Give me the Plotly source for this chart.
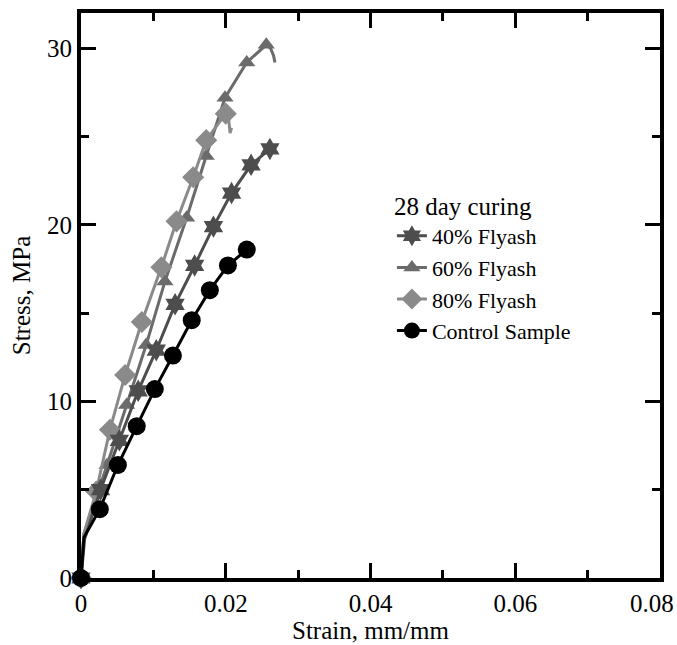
import plotly.graph_objects as go

# ---------------- data ----------------
series_names = ["40% Flyash", "60% Flyash", "80% Flyash", "Control Sample"]

# marker points
fa40_x = [0, 0.0027, 0.0053, 0.0079, 0.0104, 0.0130, 0.0157, 0.0183, 0.0208, 0.0235, 0.0261]
fa40_y = [0, 5.0, 7.8, 10.6, 12.9, 15.5, 17.7, 19.9, 21.8, 23.4, 24.3]
fa60_x = [0, 0.0036, 0.0063, 0.0090, 0.0116, 0.0146, 0.0173, 0.0199, 0.0229, 0.0256]
fa60_y = [0, 6.4, 9.8, 13.2, 16.8, 20.4, 23.9, 27.2, 29.2, 30.2]
fa80_x = [0, 0.0021, 0.0040, 0.0061, 0.0084, 0.0111, 0.0132, 0.0155, 0.0173, 0.0200]
fa80_y = [0, 4.9, 8.4, 11.5, 14.5, 17.6, 20.2, 22.7, 24.8, 26.3]
ctrl_x = [0, 0.0026, 0.0051, 0.0077, 0.0102, 0.0127, 0.0153, 0.0178, 0.0203, 0.0229]
ctrl_y = [0, 3.9, 6.4, 8.6, 10.7, 12.6, 14.6, 16.3, 17.7, 18.6]

# raw curve vertices (lines)
fa40_line_x = [0, 0.0005, 0.0027, 0.0053, 0.0079, 0.0104, 0.0130, 0.0157, 0.0183, 0.0208, 0.0235, 0.0261, 0.0264]
fa40_line_y = [0, 2.2, 5.0, 7.8, 10.6, 12.9, 15.5, 17.7, 19.9, 21.8, 23.4, 24.3, 24.5]
fa60_line_x = [0, 0.0004, 0.0036, 0.0063, 0.0090, 0.0116, 0.0146, 0.0173, 0.0199, 0.0229, 0.0256, 0.0262, 0.0266, 0.0268]
fa60_line_y = [0, 2.5, 6.4, 9.8, 13.2, 16.8, 20.4, 23.9, 27.2, 29.2, 30.2, 30.0, 29.6, 29.2]
fa80_line_x = [0, 0.0004, 0.0021, 0.0040, 0.0061, 0.0084, 0.0111, 0.0132, 0.0155, 0.0173, 0.0200, 0.0204, 0.0206, 0.0208]
fa80_line_y = [0, 2.5, 4.9, 8.4, 11.5, 14.5, 17.6, 20.2, 22.7, 24.8, 26.3, 26.0, 25.2, 25.5]
ctrl_line_x = [0, 0.0004, 0.0026, 0.0051, 0.0077, 0.0102, 0.0127, 0.0153, 0.0178, 0.0203, 0.0229]
ctrl_line_y = [0, 2.3, 3.9, 6.4, 8.6, 10.7, 12.6, 14.6, 16.3, 17.7, 18.6]

x_tickvals = [0, 0.02, 0.04, 0.06, 0.08]
x_ticktext = ["0", "0.02", "0.04", "0.06", "0.08"]
y_tickvals = [0, 10, 20, 30]
y_ticktext = ["0", "10", "20", "30"]

# ---------------- styling ----------------
colors = {"40% Flyash": "#4d4d4d", "60% Flyash": "#6b6b6b",
          "80% Flyash": "#8a8a8a", "Control Sample": "#000000"}
symbols = {"40% Flyash": "hexagram", "60% Flyash": "triangle-up",
           "80% Flyash": "diamond", "Control Sample": "circle"}
sizes = {"40% Flyash": 17, "60% Flyash": 15, "80% Flyash": 17, "Control Sample": 18}

data = {
    "40% Flyash": (fa40_line_x, fa40_line_y, fa40_x, fa40_y),
    "60% Flyash": (fa60_line_x, fa60_line_y, fa60_x, fa60_y),
    "80% Flyash": (fa80_line_x, fa80_line_y, fa80_x, fa80_y),
    "Control Sample": (ctrl_line_x, ctrl_line_y, ctrl_x, ctrl_y),
}

FONT = "Liberation Serif, Times New Roman, serif"
fig = go.Figure()

draw_order = ["60% Flyash", "80% Flyash", "40% Flyash", "Control Sample"]
for name in draw_order:
    lx, ly, mx, my = data[name]
    c = colors[name]
    fig.add_trace(go.Scatter(x=lx, y=ly, mode="lines", line=dict(color=c, width=3),
                             showlegend=False, hoverinfo="skip", cliponaxis=False))
    fig.add_trace(go.Scatter(x=mx, y=my, mode="markers",
                             marker=dict(color=c, symbol=symbols[name], size=sizes[name], line=dict(width=0)),
                             showlegend=False, cliponaxis=False))

for rank, name in enumerate(series_names):
    c = colors[name]
    fig.add_trace(go.Scatter(x=[None], y=[None], mode="lines+markers", name=name,
                             line=dict(color=c, width=3),
                             marker=dict(color=c, symbol=symbols[name], size=sizes[name], line=dict(width=0)),
                             legendrank=rank + 1))

axis_common = dict(
    showline=True, linecolor="black", linewidth=4, mirror="allticks",
    ticks="inside", ticklen=15, tickwidth=3, tickcolor="black",
    showgrid=False, zeroline=False,
    tickfont=dict(family=FONT, size=25, color="black"),
)

# last x tick label is placed as right-anchored text so it stays inside the page
fig.update_xaxes(range=[0, 0.08], tickvals=x_tickvals, ticktext=x_ticktext[:-1] + [""],
                 minor=dict(ticks="inside", ticklen=8, tickwidth=3, tickcolor="black", dtick=0.01, showgrid=False),
                 title=dict(text="Strain, mm/mm", font=dict(family=FONT, size=25, color="black"), standoff=0),
                 automargin=False, **axis_common)
fig.add_annotation(x=x_tickvals[-1], y=0, xref="x", yref="y", text=x_ticktext[-1],
                   showarrow=False, xanchor="right", yanchor="middle", xshift=16, yshift=-25,
                   font=dict(family=FONT, size=25, color="black"))
fig.update_yaxes(range=[0, 32], tickvals=y_tickvals, ticktext=y_ticktext,
                 minor=dict(ticks="inside", ticklen=8, tickwidth=3, tickcolor="black", dtick=5, tick0=0, showgrid=False),
                 title=dict(text="Stress, MPa", font=dict(family=FONT, size=25, color="black"), standoff=10),
                 automargin=False, **axis_common)

fig.update_layout(
    width=677, height=645,
    margin=dict(l=81, r=17, t=13, b=67, autoexpand=False),
    plot_bgcolor="white", paper_bgcolor="white",
    font=dict(family=FONT, size=25, color="black"),
    legend=dict(
        x=0.537, y=0.70, xanchor="left", yanchor="top",
        title=dict(text="28 day curing", side="top", font=dict(family=FONT, size=25)),
        font=dict(family=FONT, size=22, color="black"),
        bgcolor="rgba(0,0,0,0)", borderwidth=0,
        tracegroupgap=0,
    ),
)

fig.write_html("out.html", config={"displayModeBar": False},
               post_script="document.body.style.margin='0';document.body.style.overflow='hidden';")
